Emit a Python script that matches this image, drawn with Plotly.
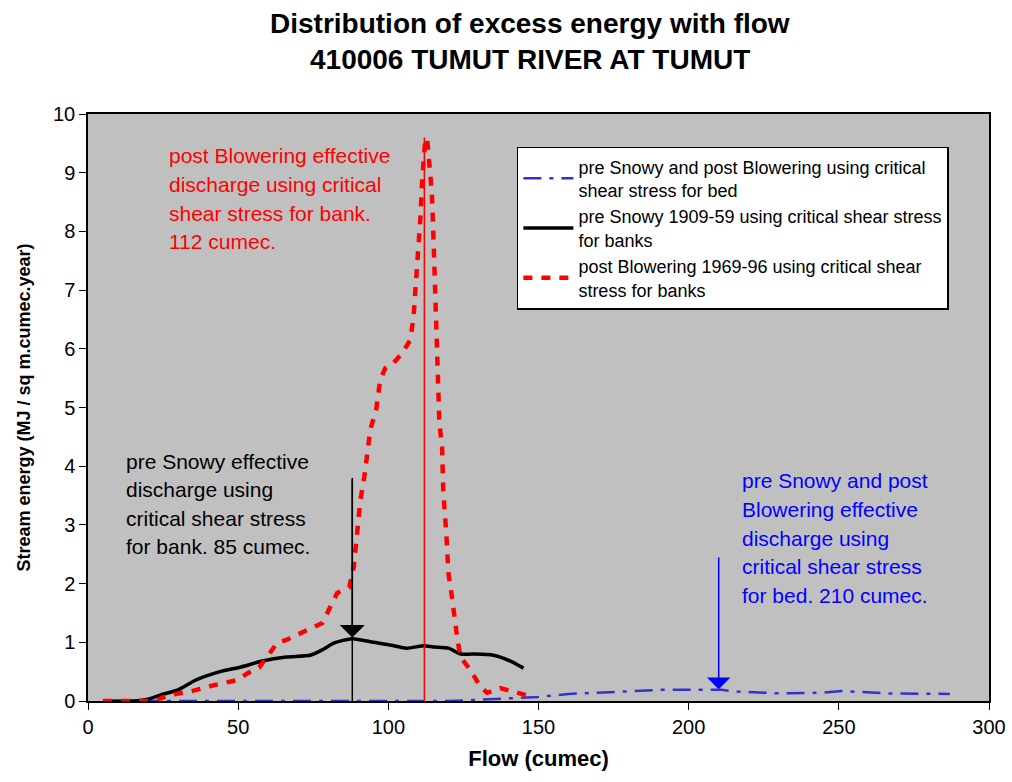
import plotly.graph_objects as go

# ---- data ----
red_flow = [5, 15, 20, 23, 27, 34, 42, 50, 53, 57, 61, 63, 66, 73, 78, 83, 87, 88.5, 89.5, 90.7,
            92, 93, 94, 96, 97.3, 99, 101.7, 104.5, 107.3, 108.4, 109.3, 110, 110.7, 111.3, 111.7,
            112.3, 112.9, 113.4, 114, 114.5, 115, 115.4, 115.8, 116.3, 116.7, 117, 117.9, 118.3,
            119.3, 120, 121, 121.8, 122.9, 124, 127.3, 130.7, 132.9, 137.3, 143, 148]
red_energy = [0, 0, 0, 0.02, 0.1, 0.16, 0.27, 0.36, 0.47, 0.57, 0.87, 0.99, 1.04, 1.2, 1.33, 1.84,
              1.94, 2.29, 2.86, 3.42, 3.82, 4.28, 4.62, 4.98, 5.47, 5.67, 5.76, 5.92, 6.15, 6.54,
              7.17, 7.89, 8.25, 8.9, 9.27, 9.56, 9.59, 9.33, 9.0, 8.65, 7.94, 7.26, 6.83, 5.76,
              5.38, 4.73, 4.33, 3.56, 2.86, 2.18, 1.84, 1.5, 1.09, 0.75, 0.53, 0.24, 0.14, 0.22,
              0.14, 0.07]

black_flow = [5, 15, 20, 24, 30, 36, 44, 51, 58, 66, 74, 78, 82, 88, 95, 101, 106, 112, 115, 120,
              124, 128, 135, 141, 145]
black_energy = [0, 0, 0.03, 0.1, 0.19, 0.36, 0.5, 0.58, 0.68, 0.75, 0.78, 0.87, 0.99, 1.06, 1.0,
                0.95, 0.9, 0.94, 0.92, 0.9, 0.8, 0.8, 0.78, 0.67, 0.56]

blue_flow = [5, 20, 40, 60, 80, 100, 120, 130, 140, 150, 160, 176, 191, 204, 211, 216, 230, 244,
             251, 266, 287]
blue_energy = [0, 0, 0, 0, 0, 0, 0, 0.02, 0.05, 0.07, 0.12, 0.16, 0.19, 0.19, 0.19, 0.16, 0.13,
               0.14, 0.17, 0.13, 0.12]

series_names = [
    "pre Snowy and post Blowering using critical<br>shear stress for bed",
    "pre Snowy 1909-59 using critical shear stress<br>for banks",
    "post Blowering 1969-96 using critical shear<br>stress for banks",
]

# effective discharge markers: flow, arrow top, arrow tip
black_eff = (88, 3.8, 1.08)
red_eff = (112, 9.6)
blue_eff = (210, 2.47, 0.2)

black_label = ["pre Snowy effective", "discharge using", "critical shear stress",
               "for bank. 85 cumec."]
red_label = ["post Blowering effective", "discharge using critical",
             "shear stress for bank.", "112 cumec."]
blue_label = ["pre Snowy and post", "Blowering effective", "discharge using",
              "critical shear stress", "for bed. 210 cumec."]

title_lines = ["Distribution of excess energy with flow", "410006 TUMUT RIVER AT TUMUT"]

x_ticks = [0, 50, 100, 150, 200, 250, 300]
y_ticks = list(range(0, 11))

FONT = "Liberation Sans, Arial, sans-serif"

fig = go.Figure()
fig.add_trace(go.Scatter(x=blue_flow, y=blue_energy, mode="lines", name=series_names[0],
                         line=dict(color="#3333CC", width=2.5, dash="18px,8px,4px,8px")))
fig.add_trace(go.Scatter(x=black_flow, y=black_energy, mode="lines", name=series_names[1],
                         line=dict(color="black", width=3.5, shape="spline", smoothing=0.6)))
fig.add_trace(go.Scatter(x=red_flow, y=red_energy, mode="lines", name=series_names[2],
                         line=dict(color="#FF0000", width=4.5, dash="9px,9px")))

shapes = [
    dict(type="line", xref="x", yref="y", x0=black_eff[0], x1=black_eff[0], y0=0, y1=black_eff[1],
         line=dict(color="black", width=1.5)),
    dict(type="line", xref="x", yref="y", x0=red_eff[0], x1=red_eff[0], y0=0, y1=red_eff[1],
         line=dict(color="#FF0000", width=1.5)),
]

annotations = [
    dict(x=black_eff[0], y=black_eff[2], ax=black_eff[0], ay=black_eff[1], xref="x", yref="y",
         axref="x", ayref="y", showarrow=True, arrowhead=1, arrowsize=2.8, arrowwidth=1.5,
         arrowcolor="black", text=""),
    dict(x=blue_eff[0], y=blue_eff[2], ax=blue_eff[0], ay=blue_eff[1], xref="x", yref="y",
         axref="x", ayref="y", showarrow=True, arrowhead=1, arrowsize=2.6, arrowwidth=1.5,
         arrowcolor="#0000FF", text=""),
]

def add_lines(lines, x_px, y_px0, color, size, step, bold=False, anchor="left"):
    for i, t in enumerate(lines):
        annotations.append(dict(text=f"<b>{t}</b>" if bold else t, xref="paper", yref="paper",
                                x=(x_px - 88) / 901, y=(701 - (y_px0 + i * step)) / 587,
                                xanchor=anchor, yanchor="middle", showarrow=False,
                                font=dict(family=FONT, size=size, color=color)))

add_lines(red_label, 167, 156, "#FF0000", 21, 28.5)
add_lines(black_label, 124, 461, "black", 21, 28.5)
add_lines(blue_label, 740, 481, "#0000FF", 21, 28.5)
add_lines(title_lines, 530, 23, "black", 28, 37, bold=True, anchor="center")

fig.update_layout(
    width=1012, height=782,
    margin=dict(l=88, r=23, t=114, b=81),
    paper_bgcolor="white", plot_bgcolor="#C0C0C0",
    font=dict(family=FONT, color="black"),
    showlegend=True,
    legend=dict(x=0.476, y=0.944, xanchor="left", yanchor="top", bgcolor="white",
                bordercolor="black", borderwidth=1.5, font=dict(family=FONT, size=18, color="black"),
                itemwidth=50, tracegroupgap=0),
    shapes=shapes, annotations=annotations,
)
fig.update_xaxes(range=[0, 300], tickvals=x_ticks, showgrid=False, zeroline=False,
                 showline=True, linecolor="black", linewidth=1.5, mirror=True,
                 ticks="outside", ticklen=7, tickcolor="black", automargin=False,
                 tickfont=dict(family=FONT, size=20, color="black"),
                 title=dict(text="<b>Flow (cumec)</b>", font=dict(family=FONT, size=22), standoff=14))
fig.update_yaxes(range=[0, 10], tickvals=y_ticks, showgrid=False, zeroline=False,
                 showline=True, linecolor="black", linewidth=1.5, mirror=True,
                 ticks="outside", ticklen=7, tickcolor="black", automargin=False,
                 tickfont=dict(family=FONT, size=20, color="black"),
                 title=dict(text="<b>Stream energy (MJ / sq m.cumec.year)</b>",
                            font=dict(family=FONT, size=18), standoff=18))

fig.write_html("out.html")
